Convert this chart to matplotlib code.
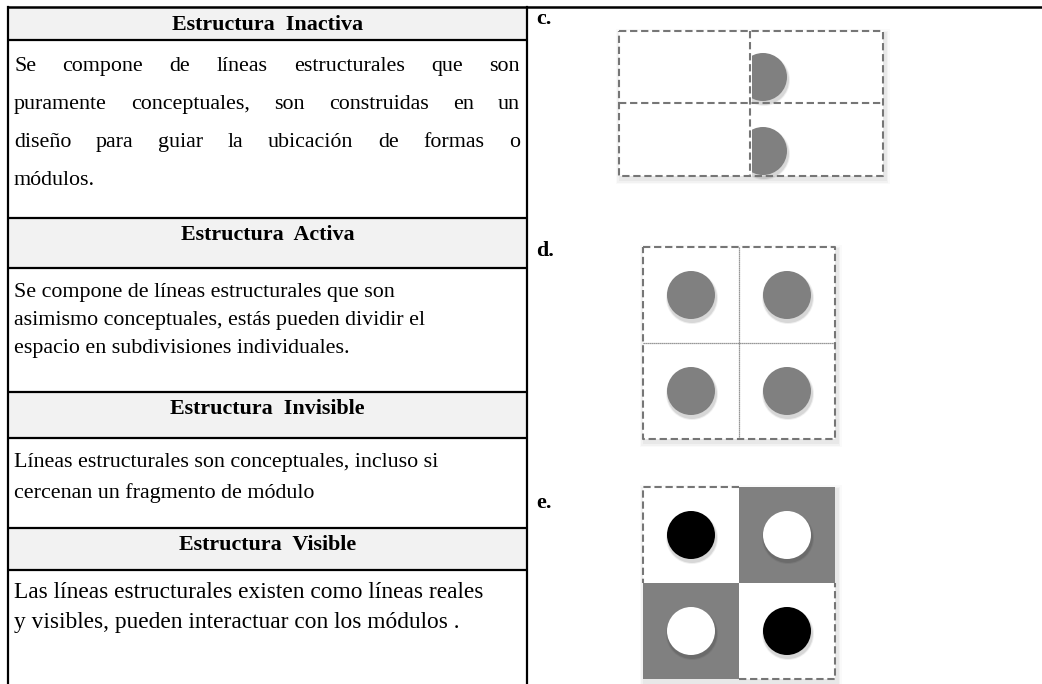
import matplotlib
matplotlib.use('Agg')
import matplotlib.pyplot as plt
from matplotlib.patches import Rectangle, Circle

# ------------------------------
# Content
# ------------------------------
HEADERS = ["Estructura  Inactiva", "Estructura  Activa",
           "Estructura  Invisible", "Estructura  Visible"]
BODIES = [
    ["Se compone de líneas estructurales que son",
     "puramente conceptuales, son construidas en un",
     "diseño para guiar la ubicación de formas o",
     "módulos."],
    ["Se compone de líneas estructurales que son",
     "asimismo conceptuales, estás pueden dividir el",
     "espacio en subdivisiones individuales."],
    ["Líneas estructurales son conceptuales, incluso si",
     "cercenan un fragmento de módulo"],
    ["Las líneas estructurales existen como líneas reales",
     "y visibles, pueden interactuar con los módulos ."],
]
JUSTIFIED = [True, False, False, False]
LABELS = ["c.", "d.", "e."]

# diagram contents by (row, col)
C_HALF_DISC_ROWS = [0, 1]
D_DOTS = [(0, 0), (0, 1), (1, 0), (1, 1)]
E_CELL_FILL = [["white", "#808080"], ["#808080", "white"]]
E_DOT_COLOR = [["black", "white"], ["white", "black"]]

# ------------------------------
# Layout (pixels, y down)
# ------------------------------
W, H = 1042, 684
LEFT, MID = 8, 527
ROW_LINES = [7, 40, 218, 268, 392, 438, 528, 570]
BODY_FIRST = [24, 22, 22, 20]
BODY_STEP = [38, 28, 31, 30]
BODY_FS = [15.8, 15.8, 15.8, 16.8]
TEXT_X0, TEXT_X1 = 14, 520
GREY = '#808080'
DASH = (0, (3.5, 1.8))
SERIF = ['Liberation Serif', 'DejaVu Serif']
FS = 15.8

fig = plt.figure(figsize=(W / 100, H / 100), dpi=100)
ax = fig.add_axes([0, 0, 1, 1])
ax.set_xlim(0, W)
ax.set_ylim(H, 0)
ax.axis('off')
renderer = fig.canvas.get_renderer()


def text_width(s, fs):
    t = ax.text(0, 0, s, fontsize=fs, family=SERIF)
    bb = t.get_window_extent(renderer=renderer)
    t.remove()
    return bb.width


def justified_line(words, y, fs):
    widths = [text_width(w, fs) for w in words]
    gap = (TEXT_X1 - TEXT_X0 - sum(widths)) / (len(words) - 1)
    x = TEXT_X0
    for w, wd in zip(words, widths):
        ax.text(x, y, w, fontsize=fs, family=SERIF, va='center_baseline')
        x += wd + gap


# ------------------------------
# Table
# ------------------------------
for i, head in enumerate(HEADERS):
    y0, y1 = ROW_LINES[2 * i], ROW_LINES[2 * i + 1]
    ax.add_patch(Rectangle((LEFT, y0), MID - LEFT, y1 - y0, facecolor='#f2f2f2',
                           edgecolor='none', zorder=0))
    ax.text((LEFT + MID) / 2, y0 + 15, head, fontsize=FS, family=SERIF,
            fontweight='bold', ha='center', va='center_baseline')
    for k, line in enumerate(BODIES[i]):
        y = y1 + BODY_FIRST[i] + k * BODY_STEP[i]
        if JUSTIFIED[i] and k < len(BODIES[i]) - 1:
            justified_line(line.split(), y, BODY_FS[i])
        else:
            ax.text(TEXT_X0, y, line, fontsize=BODY_FS[i], family=SERIF,
                    va='center_baseline')

for y in ROW_LINES[1:]:
    ax.plot([LEFT, MID], [y, y], color='black', lw=1.6, solid_capstyle='butt')
ax.plot([LEFT, W], [ROW_LINES[0]] * 2, color='black', lw=1.8, solid_capstyle='butt')
ax.plot([LEFT, LEFT], [ROW_LINES[0], H], color='black', lw=1.6)
ax.plot([MID, MID], [ROW_LINES[0], H], color='black', lw=1.6)

for lab, y in zip(LABELS, [16, 249, 500]):
    ax.text(536, y, lab, fontsize=FS, family=SERIF, fontweight='bold', va='center_baseline')


# ------------------------------
# Diagrams
# ------------------------------
def box_shadow(x0, y0, w, h):
    for d, a in [(5, 0.02), (3.5, 0.03), (2, 0.04)]:
        ax.add_patch(Rectangle((x0 - d + 1.5, y0 - d + 3), w + 2 * d, h + 2 * d,
                               facecolor='black', alpha=a, edgecolor='none', zorder=1))
    ax.add_patch(Rectangle((x0, y0), w, h, facecolor='white', edgecolor='none', zorder=1.5))


def dot(cx, cy, r, color, clip=None):
    shadows = []
    for d, a in [(2, 0.06), (1, 0.1)]:
        shadows.append(Circle((cx + 1, cy + 3), r + d, facecolor='black', alpha=a,
                              edgecolor='none', zorder=3))
    c = Circle((cx, cy), r, facecolor=color, edgecolor='none', zorder=4)
    for p in shadows + [c]:
        ax.add_patch(p)
        if clip is not None:
            p.set_clip_path(clip)


def dashed(xs, ys, lw=1.5, ls=DASH):
    ax.plot(xs, ys, color='#767676', lw=lw, linestyle=ls, zorder=5)


# c. : two half discs cut by the middle column line
cx0, cx1, cy0, cy1 = 619, 883, 31, 176
cxm, cym = 750, 103
box_shadow(cx0, cy0, cx1 - cx0, cy1 - cy0)
clip = Rectangle((cxm + 2, 0), 400, 400, transform=ax.transData, visible=False)
ax.add_patch(clip)
for r in C_HALF_DISC_ROWS:
    dot(cxm + 13, [77, 151][r], 24, GREY, clip=clip)
dashed([cx0, cx1, cx1, cx0, cx0], [cy0, cy0, cy1, cy1, cy0])
dashed([cxm, cxm], [cy0, cy1])
dashed([cx0, cx1], [cym, cym])

# d. : four dots, dotted inner lines
dx0, dx1, dy0, dy1 = 643, 835, 247, 439
cw = (dx1 - dx0) / 2
box_shadow(dx0, dy0, dx1 - dx0, dy1 - dy0)
for (r, c) in D_DOTS:
    dot(dx0 + cw * (c + 0.5), dy0 + cw * (r + 0.5), 24, GREY)
dashed([dx0, dx1, dx1, dx0, dx0], [dy0, dy0, dy1, dy1, dy0])
dashed([dx0 + cw] * 2, [dy0, dy1], lw=0.9, ls=(0, (1, 0.6)))
dashed([dx0, dx1], [dy0 + cw] * 2, lw=0.9, ls=(0, (1, 0.6)))

# e. : checkerboard with dots
ex0, ey0 = 643, 487
box_shadow(ex0, ey0, 2 * cw, 2 * cw)
for r in range(2):
    for c in range(2):
        ax.add_patch(Rectangle((ex0 + c * cw, ey0 + r * cw), cw, cw,
                               facecolor=E_CELL_FILL[r][c], edgecolor='none', zorder=2))
        dot(ex0 + cw * (c + 0.5), ey0 + cw * (r + 0.5), 24, E_DOT_COLOR[r][c])
dashed([ex0 + cw, ex0, ex0], [ey0, ey0, ey0 + cw])
dashed([ex0 + cw, ex0 + 2 * cw, ex0 + 2 * cw], [ey0 + 2 * cw, ey0 + 2 * cw, ey0 + cw])

fig.savefig('out.png', dpi=100)
